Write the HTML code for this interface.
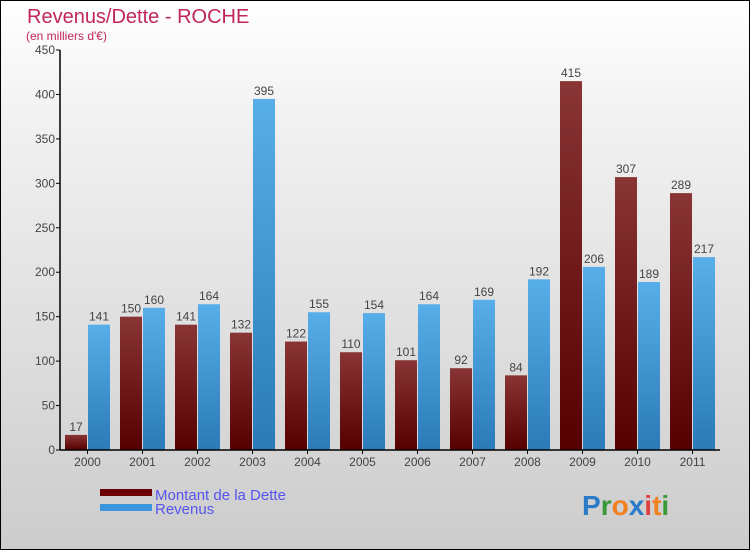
<!DOCTYPE html>
<html><head><meta charset="utf-8"><style>
html,body{margin:0;padding:0;width:750px;height:550px;overflow:hidden}
body{font-family:"Liberation Sans",sans-serif}
#wrap{position:relative;width:748px;height:548px;border:1px solid #000;background:linear-gradient(#ffffff,#f2f2f2 20%,#cccccc)}
</style></head><body>
<div id="wrap">
<svg width="748" height="548" viewBox="1 1 748 548" style="position:absolute;left:0;top:0">
<defs>
<linearGradient id="gD" x1="0" y1="0" x2="0" y2="1"><stop offset="0" stop-color="#8a3535"/><stop offset="1" stop-color="#560000"/></linearGradient>
<linearGradient id="gR" x1="0" y1="0" x2="0" y2="1"><stop offset="0" stop-color="#58aee8"/><stop offset="1" stop-color="#2a7bb8"/></linearGradient>
</defs>
<text x="27" y="23" font-size="20" fill="#c0265a">Revenus/Dette - ROCHE</text>
<text x="26" y="40" font-size="12" fill="#c0265a">(en milliers d'€)</text>
<g id="plot"></g>
<rect x="100" y="489" width="52" height="7" fill="#6b0000"/>
<rect x="100" y="504" width="52" height="7" fill="#3a96dc"/>
<text x="155" y="500" font-size="15" fill="#5555ee">Montant de la Dette</text>
<text x="155" y="514" font-size="15" fill="#5555ee">Revenus</text>
<text x="582" y="515" font-size="28" font-weight="bold"><tspan fill="#2a7bc8">P</tspan><tspan fill="#3a9a3a">r</tspan><tspan fill="#f08020">o</tspan><tspan fill="#2a7bc8">x</tspan><tspan fill="#e04040">i</tspan><tspan fill="#f08020">t</tspan><tspan fill="#3a9a3a">i</tspan></text>
</svg>
</div>
<script>
const categories=["2000","2001","2002","2003","2004","2005","2006","2007","2008","2009","2010","2011"];
const detteValues=[17,150,141,132,122,110,101,92,84,415,307,289];
const revenusValues=[141,160,164,395,155,154,164,169,192,206,189,217];
const yTicks=[0,50,100,150,200,250,300,350,400,450];
const NS="http://www.w3.org/2000/svg";
const g=document.getElementById("plot");
const x0=60,x1=720,y0=450,yTop=50,yMax=450;
const step=(x1-x0)/categories.length;
function y(v){return y0-(v/yMax)*(y0-yTop);}
function xc(i){return x0+step*i;}
function mk(t,a){const e=document.createElementNS(NS,t);for(const k in a)e.setAttribute(k,a[k]);g.appendChild(e);return e;}
yTicks.forEach(v=>{
 const t=mk("line",{x1:x0-4,x2:x0,y1:y(v),y2:y(v),stroke:"#000"});
 
 
 const l=mk("text",{x:x0-5,y:y(v)+4,"font-size":12,fill:"#444","text-anchor":"end"});
 l.textContent=v;
 
 
});
categories.forEach((c,i)=>{
 const bx=xc(i);
 const d=detteValues[i],r=revenusValues[i];
 const b1=mk("rect",{x:bx+5,y:y(d),width:22,height:y0-y(d),fill:"url(#gD)"});
 
 
 const b2=mk("rect",{x:bx+28,y:y(r),width:22,height:y0-y(r),fill:"url(#gR)"});
 
 
 const t1=mk("text",{x:bx+16,y:y(d)-4,"font-size":12,fill:"#444","text-anchor":"middle"});
 t1.textContent=d;
 
 
 const t2=mk("text",{x:bx+39,y:y(r)-4,"font-size":12,fill:"#444","text-anchor":"middle"});
 t2.textContent=r;
 
 
 const tk=mk("line",{x1:bx+27.5,x2:bx+27.5,y1:y0,y2:y0+4,stroke:"#000"});
 
 
 const xl=mk("text",{x:bx+27.5,y:y0+16,"font-size":12,fill:"#444","text-anchor":"middle"});
 xl.textContent=c;
 
 
});
const ax=mk("line",{x1:x0,x2:x0,y1:yTop,y2:y0,stroke:"#000","stroke-width":1.5});


const xa=mk("line",{x1:x0,x2:x1,y1:y0,y2:y0,stroke:"#000","stroke-width":1.5});


</script>
</body></html>
